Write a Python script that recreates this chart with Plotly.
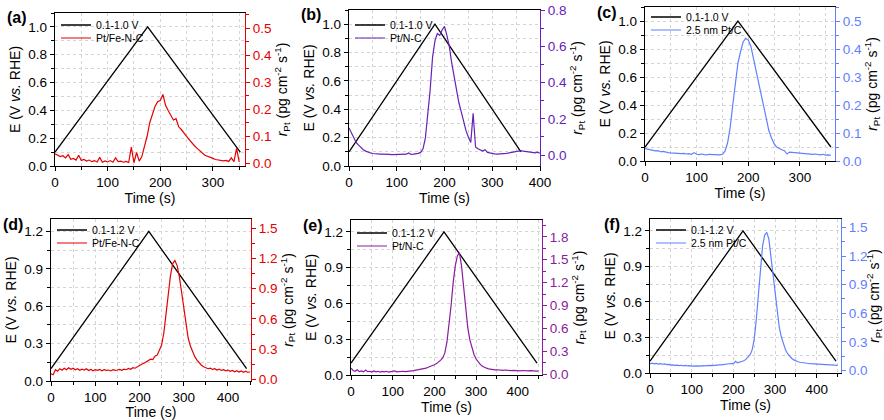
import plotly.graph_objects as go

# ---------------- data ----------------
# potential ramps (time s, E V vs RHE)
ramp_a_t = [0, 176, 352]
ramp_a_e = [0.1, 1.0, 0.1]
ramp_b_t = [0, 180, 360]
ramp_b_e = [0.1, 1.0, 0.1]
ramp_c_t = [0, 180, 360]
ramp_c_e = [0.1, 1.0, 0.1]
ramp_d_t = [0, 221, 442]
ramp_d_e = [0.1, 1.2, 0.1]
ramp_e_t = [0, 223, 446]
ramp_e_e = [0.1, 1.2, 0.1]
ramp_f_t = [0, 223, 446]
ramp_f_e = [0.1, 1.2, 0.1]

# dissolution rate r_Pt (pg cm-2 s-1), sampled every 5 s from t = 0
rate_a = [
    0.035, 0.030, 0.025, 0.028, 0.020, 0.032, 0.015, 0.018, 0.012, 0.030,   # 0-45
    0.010, 0.014, 0.008, 0.012, 0.006, 0.010, 0.005, 0.022, 0.004, 0.009,   # 50-95
    0.005, 0.010, 0.004, 0.020, 0.006, 0.008, 0.004, 0.007, 0.003, 0.060,   # 100-145
    0.002, 0.040, 0.008, 0.025, 0.060, 0.100, 0.150, 0.185, 0.210, 0.228,   # 150-195
    0.232, 0.255, 0.215, 0.195, 0.175, 0.160, 0.165, 0.135, 0.125, 0.110,   # 200-245
    0.100, 0.088, 0.075, 0.065, 0.055, 0.045, 0.038, 0.030, 0.025, 0.020,   # 250-295
    0.018, 0.014, 0.012, 0.010, 0.009, 0.011, 0.007, 0.020, 0.006, 0.055,   # 300-345
    0.004,                                                                  # 350
]
rate_b = [
    0.150, 0.120, 0.090, 0.070, 0.055, 0.040, 0.030, 0.022, 0.016, 0.012,   # 0-45
    0.009, 0.007, 0.006, 0.005, 0.006, 0.004, 0.005, 0.004, 0.003, 0.004,   # 50-95
    0.003, 0.004, 0.003, 0.004, 0.005, 0.012, 0.004, 0.005, 0.006, 0.010,   # 100-145
    0.015, 0.035, 0.095, 0.220, 0.360, 0.540, 0.630, 0.670, 0.660, 0.690,   # 150-195
    0.710, 0.660, 0.600, 0.510, 0.430, 0.360, 0.290, 0.240, 0.180, 0.135,   # 200-245
    0.100, 0.070, 0.230, 0.045, 0.035, 0.028, 0.022, 0.030, 0.015, 0.012,   # 250-295
    0.008, 0.007, 0.006, 0.006, 0.007, 0.008, 0.010, 0.012, 0.014, 0.016,   # 300-345
    0.018, 0.020, 0.025, 0.022, 0.020, 0.018, 0.016, 0.014, 0.012, 0.016,   # 350-395
    0.010,                                                                  # 400
]
rate_c = [
    0.044, 0.042, 0.040, 0.038, 0.036, 0.037, 0.033, 0.034, 0.031, 0.030,   # 0-45
    0.029, 0.028, 0.029, 0.027, 0.026, 0.027, 0.025, 0.026, 0.024, 0.030,   # 50-95
    0.024, 0.023, 0.025, 0.023, 0.022, 0.024, 0.023, 0.022, 0.023, 0.022,   # 100-145
    0.024, 0.035, 0.065, 0.120, 0.200, 0.285, 0.350, 0.390, 0.425, 0.438,   # 150-195
    0.432, 0.410, 0.366, 0.320, 0.280, 0.230, 0.185, 0.140, 0.108, 0.082,   # 200-245
    0.062, 0.050, 0.044, 0.040, 0.037, 0.025, 0.032, 0.031, 0.030, 0.029,   # 250-295
    0.028, 0.027, 0.026, 0.027, 0.025, 0.024, 0.025, 0.023, 0.022, 0.024,   # 300-345
    0.021, 0.022, 0.020,                                                    # 350-360
]
rate_d = [
    0.055, 0.045, 0.095, 0.080, 0.105, 0.090, 0.110, 0.095, 0.115, 0.100,   # 0-45
    0.110, 0.095, 0.105, 0.090, 0.100, 0.092, 0.105, 0.088, 0.098, 0.085,   # 50-95
    0.095, 0.088, 0.097, 0.085, 0.095, 0.088, 0.092, 0.083, 0.095, 0.088,   # 100-145
    0.092, 0.098, 0.090, 0.100, 0.095, 0.108, 0.100, 0.115, 0.110, 0.125,   # 150-195
    0.135, 0.150, 0.160, 0.175, 0.185, 0.200, 0.195, 0.230, 0.240, 0.290,   # 200-245
    0.340, 0.460, 0.650, 0.860, 1.030, 1.150, 1.180, 1.130, 1.020, 0.870,   # 250-295
    0.700, 0.540, 0.410, 0.330, 0.270, 0.225, 0.190, 0.160, 0.140, 0.125,   # 300-345
    0.115, 0.105, 0.110, 0.098, 0.105, 0.092, 0.100, 0.088, 0.095, 0.085,   # 350-395
    0.092, 0.080, 0.088, 0.075, 0.085, 0.072, 0.082, 0.070, 0.080, 0.068,   # 400-445
    0.075,                                                                  # 450
]
rate_e = [
    0.080, 0.050, 0.040, 0.060, 0.035, 0.045, 0.032, 0.055, 0.035, 0.040,   # 0-45
    0.030, 0.045, 0.032, 0.040, 0.030, 0.038, 0.032, 0.040, 0.030, 0.036,   # 50-95
    0.032, 0.045, 0.032, 0.038, 0.034, 0.040, 0.036, 0.042, 0.040, 0.045,   # 100-145
    0.048, 0.052, 0.056, 0.062, 0.068, 0.075, 0.082, 0.092, 0.100, 0.112,   # 150-195
    0.125, 0.140, 0.160, 0.185, 0.215, 0.280, 0.420, 0.640, 0.900, 1.200,   # 200-245
    1.420, 1.550, 1.590, 1.420, 1.120, 0.840, 0.610, 0.450, 0.340, 0.260,   # 250-295
    0.200, 0.160, 0.130, 0.105, 0.090, 0.080, 0.072, 0.065, 0.062, 0.058,   # 300-345
    0.060, 0.055, 0.058, 0.052, 0.056, 0.050, 0.054, 0.048, 0.052, 0.048,   # 350-395
    0.050, 0.046, 0.050, 0.045, 0.048, 0.044, 0.047, 0.043, 0.046, 0.042,   # 400-445
    0.044,                                                                  # 450
]
rate_f = [
    0.070, 0.075, 0.068, 0.072, 0.066, 0.070, 0.064, 0.068, 0.060, 0.062,   # 0-45
    0.055, 0.058, 0.052, 0.055, 0.050, 0.053, 0.048, 0.052, 0.046, 0.050,   # 50-95
    0.045, 0.048, 0.044, 0.047, 0.045, 0.050, 0.046, 0.050, 0.048, 0.052,   # 100-145
    0.050, 0.055, 0.054, 0.058, 0.058, 0.062, 0.062, 0.066, 0.068, 0.072,   # 150-195
    0.070, 0.095, 0.080, 0.085, 0.090, 0.100, 0.115, 0.135, 0.165, 0.215,   # 200-245
    0.330, 0.540, 0.820, 1.100, 1.310, 1.420, 1.450, 1.380, 1.190, 0.980,   # 250-295
    0.770, 0.590, 0.450, 0.350, 0.275, 0.215, 0.175, 0.145, 0.125, 0.110,   # 300-345
    0.098, 0.090, 0.085, 0.080, 0.078, 0.074, 0.072, 0.070, 0.068, 0.066,   # 350-395
    0.066, 0.064, 0.063, 0.062, 0.060, 0.060, 0.058, 0.058, 0.056, 0.055,   # 400-445
    0.052,                                                                  # 450
]
STEP = 5

labels = ["(a)", "(b)", "(c)", "(d)", "(e)", "(f)"]
ramp_names = ["0.1-1.0 V", "0.1-1.0 V", "0.1-1.0 V", "0.1-1.2 V", "0.1-1.2 V", "0.1-1.2 V"]
sample_names = ["Pt/Fe-N-C", "Pt/N-C", "2.5 nm Pt/C", "Pt/Fe-N-C", "Pt/N-C", "2.5 nm Pt/C"]

# ---------------- style / layout ----------------
W, H = 884, 420
FONT = "Arial, Liberation Sans, sans-serif"
colors = ["#e60000", "#6422b8", "#5f80ff", "#e60000", "#8b1a9e", "#5f80ff"]

ramps = [(ramp_a_t, ramp_a_e), (ramp_b_t, ramp_b_e), (ramp_c_t, ramp_c_e),
         (ramp_d_t, ramp_d_e), (ramp_e_t, ramp_e_e), (ramp_f_t, ramp_f_e)]
rates = [rate_a, rate_b, rate_c, rate_d, rate_e, rate_f]

# plot boxes in pixels: left, right, top, bottom
boxes = [(55, 245, 13, 166), (349, 540, 10, 166), (645, 835, 7, 161),
         (51, 251, 219, 381), (351, 542, 220, 375), (650, 841, 219, 373)]
# legend first-row centre (pixels from top)
legend_rows = [24, 24, 16, 229, 232, 229]
xranges = [[0, 361], [0, 400], [0, 368], [0, 452], [0, 458], [0, 458]]
yl_ranges = [[0, 1.1], [0, 1.1], [0, 1.1], [0, 1.3], [0, 1.3], [0, 1.3]]
yl_dtick = [0.2, 0.2, 0.2, 0.3, 0.3, 0.3]
yr_ranges = [[-0.01, 0.556], [-0.06, 0.8], [0, 0.55], [-0.017, 1.593], [-0.009, 2.02], [-0.028, 1.59]]
yr_dtick = [0.1, 0.2, 0.1, 0.3, 0.3, 0.3]

fig = go.Figure()
layout = dict(template="none", width=W, height=H, margin=dict(l=0, r=0, t=0, b=0, autoexpand=False),
              paper_bgcolor="white", plot_bgcolor="white",
              font=dict(family=FONT, size=13, color="black"),
              showlegend=True, annotations=[])

grid_col = "#d4d4d4"
for k in range(6):
    xn = "x" if k == 0 else f"x{k+1}"
    yl = 2 * k + 1
    yr = 2 * k + 2
    yln = "y" if yl == 1 else f"y{yl}"
    yrn = f"y{yr}"
    L, R, T, B = boxes[k]
    xd = [L / W, R / W]
    yd = [1 - B / H, 1 - T / H]
    leg1 = "legend" if k == 0 else f"legend{2*k+1}"
    leg2 = f"legend{2*k+2}"

    rt, re_ = ramps[k]
    fig.add_trace(go.Scatter(x=rt, y=re_, mode="lines", name=ramp_names[k],
                             line=dict(color="black", width=1.3),
                             xaxis=xn, yaxis=yln, legend=leg1))
    r = rates[k]
    fig.add_trace(go.Scatter(x=[i * STEP for i in range(len(r))], y=r, mode="lines",
                             name=sample_names[k],
                             line=dict(color=colors[k], width=1.2),
                             xaxis=xn, yaxis=yrn, legend=leg2))

    xkey = "xaxis" if k == 0 else f"xaxis{k+1}"
    ylkey = "yaxis" if yl == 1 else f"yaxis{yl}"
    yrkey = f"yaxis{yr}"
    layout[xkey] = dict(domain=xd, anchor=yln, range=xranges[k], dtick=100, tick0=0,
                        automargin=False,
                        ticks="outside", ticklen=4, tickwidth=1.1, tickcolor="black",
                        showline=True, linecolor="black", linewidth=1.3, mirror=True,
                        showgrid=True, gridcolor=grid_col, griddash="dot", gridwidth=1,
                        zeroline=False, tickfont=dict(size=13.5),
                        minor=dict(dtick=50, ticks="outside", ticklen=2.5, tickcolor="black",
                                   showgrid=True, gridcolor=grid_col, griddash="dot"),
                        title=dict(text="Time (s)", font=dict(size=14), standoff=2))
    layout[ylkey] = dict(domain=yd, anchor=xn, range=yl_ranges[k], dtick=yl_dtick[k], tick0=0,
                         automargin=False,
                         tickformat=".1f", ticks="outside", ticklen=4, tickwidth=1.1,
                         tickcolor="black", showline=True, linecolor="black", linewidth=1.3,
                         showgrid=True, gridcolor=grid_col, griddash="dot", zeroline=False,
                         tickfont=dict(size=13.5),
                         minor=dict(dtick=yl_dtick[k] / 2, ticks="outside", ticklen=2.5,
                                    tickcolor="black", showgrid=True, gridcolor=grid_col,
                                    griddash="dot"),
                         title=dict(text="E (V <i>vs.</i> RHE)", font=dict(size=14), standoff=4))
    layout[yrkey] = dict(overlaying=yln, side="right", anchor=xn, range=yr_ranges[k],
                         automargin=False,
                         dtick=yr_dtick[k], tick0=0, tickformat=".1f", ticks="outside",
                         ticklen=4, tickwidth=1.1, tickcolor=colors[k], showline=True,
                         linecolor=colors[k], linewidth=1.3, showgrid=False, zeroline=False,
                         tickfont=dict(size=13.5, color=colors[k]),
                         minor=dict(dtick=yr_dtick[k] / 2, ticks="outside", ticklen=2.5,
                                    tickcolor=colors[k]),
                         title=dict(text="<i>r</i><sub>Pt</sub> (pg cm<sup>-2</sup> s<sup>-1</sup>)",
                                    font=dict(size=14), standoff=4))
    for j, (lk, dy) in enumerate([(leg1, 0), (leg2, 13)]):
        top = legend_rows[k] + dy - 13.5
        layout[lk] = dict(x=(L + 1) / W, xanchor="left", y=1 - top / H, yanchor="top",
                          bgcolor="rgba(0,0,0,0)", borderwidth=0, itemwidth=30,
                          font=dict(size=10.5), tracegroupgap=0)
    layout["annotations"].append(dict(text=f"<b>{labels[k]}</b>", xref="paper", yref="paper",
                                      x=(L - 38) / W, y=1 - (T + 5) / H,
                                      xanchor="center", yanchor="middle", showarrow=False,
                                      font=dict(size=16)))

fig.update_layout(**layout)
fig.write_html("out.html", config={"displayModeBar": False},
               post_script="document.body.style.margin='0';document.body.style.overflow='hidden';")
